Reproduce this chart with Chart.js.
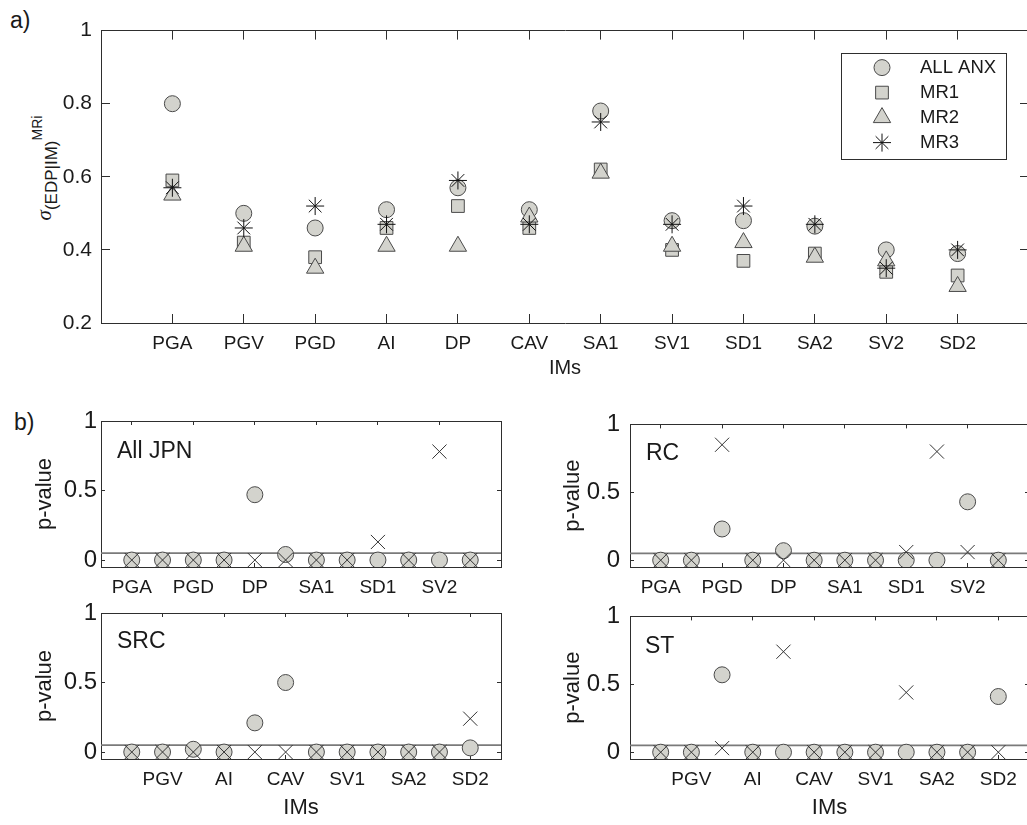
<!DOCTYPE html>
<html>
<head>
<meta charset="utf-8">
<script src="https://cdn.jsdelivr.net/npm/chart.js@4.4.1/dist/chart.umd.min.js"></script>
<style>
html,body{margin:0;padding:0;background:#fff;overflow:hidden;}
#wrap{position:relative;width:1027px;height:825px;overflow:hidden;font-family:"Liberation Sans",Arial,Helvetica,sans-serif;color:#1a1a1a;}
#wrap canvas{position:absolute;}
.txt{position:absolute;white-space:nowrap;line-height:1;}
</style>
</head>
<body>
<div id="wrap">
  <div class="txt" id="lblA" style="left:10px;font-size:23px;">a)</div>
  <div class="txt" id="lblB" style="left:14px;font-size:23px;">b)</div>
  <div class="txt" id="sigTitle" style="left:44px;top:168px;transform:translate(-50%,-50%) rotate(-90deg);"><span style="font-family:'Liberation Serif',serif;font-style:italic;font-size:21px;">σ</span><span style="font-size:17px;position:relative;top:6px;">(EDP|IM)</span><span style="font-size:14px;position:relative;top:-9px;">MRi</span></div>
</div>
<script>
// ---------- data ----------
const categories = ['PGA','PGV','PGD','AI','DP','CAV','SA1','SV1','SD1','SA2','SV2','SD2'];
// panel a) sigma values
const allAnx = [0.80, 0.50, 0.46, 0.51, 0.57, 0.51, 0.78, 0.48, 0.48, 0.465, 0.40, 0.39];
const mr1    = [0.59, 0.42, 0.38, 0.46, 0.52, 0.46, 0.62, 0.40, 0.37, 0.39, 0.34, 0.33];
const mr2    = [0.55, 0.41, 0.35, 0.41, 0.41, 0.49, 0.61, 0.41, 0.42, 0.38, 0.37, 0.30];
const mr3    = [0.57, 0.46, 0.52, 0.47, 0.59, 0.47, 0.75, 0.47, 0.52, 0.47, 0.35, 0.40];
const sigmaTicks = [0.2, 0.4, 0.6, 0.8, 1];
const seriesNames = ['ALL ANX', 'MR1', 'MR2', 'MR3'];
// panel b) p-values (circle series and cross series)
const pTicks = [0, 0.5, 1];
const pThreshold = 0.05;
const jpnCircle = [0, 0, 0, 0, 0.47, 0.04, 0, 0, 0, 0, 0, 0];
const jpnCross  = [0, 0, 0, 0, 0, 0, 0, 0, 0.13, 0, 0.78, 0];
const rcCircle  = [0, 0, 0.23, 0, 0.07, 0, 0, 0, 0, 0, 0.43, 0];
const rcCross   = [0, 0, 0.85, 0, 0, 0, 0, 0, 0.06, 0.80, 0.06, 0];
const srcCircle = [0, 0, 0.02, 0, 0.21, 0.50, 0, 0, 0, 0, 0, 0.03];
const srcCross  = [0, 0, 0, 0, 0, 0, 0, 0, 0, 0, 0, 0.24];
const stCircle  = [0, 0, 0.57, 0, 0, 0, 0, 0, 0, 0, 0, 0.41];
const stCross   = [0, 0, 0.03, 0, 0.74, 0, 0, 0, 0.44, 0, 0, 0];
const allTicks  = [1, 2, 3, 4, 5, 6, 7, 8, 9, 10, 11, 12];
const oddTicks  = [1, 3, 5, 7, 9, 11];
const evenTicks = [2, 4, 6, 8, 10, 12];

// ---------- styles ----------
const FILL = '#d3d3cd', EDGE = '#4a4a4a', INK = '#1a1a1a', AXIS = '#2e2e2e';
const FONT = '"Liberation Sans", Arial, Helvetica, sans-serif';
const wrap = document.getElementById('wrap');

function baselineTop(id, baseline, fs){ document.getElementById(id).style.top = (baseline - 0.8465*fs) + 'px'; }
baselineTop('lblA', 28, 23);
baselineTop('lblB', 430, 23);

function pts(vals){ return vals.map((v, i) => ({x: i + 1, y: v})); }

const legendBox = {
  id: 'legendBox',
  afterDatasetsDraw(chart, args, opts) {
    if (!opts || !opts.show) return;
    const {ctx, chartArea} = chart;
    const x0 = chartArea.right - opts.right - opts.width;
    const y0 = chartArea.top + opts.top;
    ctx.save();
    ctx.fillStyle = '#fff';
    ctx.fillRect(x0, y0, opts.width, opts.height);
    ctx.strokeStyle = AXIS; ctx.lineWidth = 1;
    ctx.strokeRect(Math.round(x0) + 0.5, Math.round(y0) + 0.5, opts.width, opts.height);
    chart.data.datasets.forEach((ds, i) => {
      const y = y0 + opts.firstRow + i * opts.rowGap;
      ctx.fillStyle = ds.pointBackgroundColor;
      ctx.strokeStyle = ds.pointBorderColor;
      ctx.lineWidth = ds.pointBorderWidth;
      Chart.helpers.drawPoint(ctx, {pointStyle: ds.pointStyle, radius: ds.pointRadius, borderWidth: ds.pointBorderWidth, rotation: 0}, x0 + opts.markerX, y);
      ctx.fillStyle = INK;
      ctx.font = opts.fontSize + 'px ' + FONT;
      ctx.textBaseline = 'middle'; ctx.textAlign = 'left';
      ctx.fillText(ds.label, x0 + opts.textX, y);
    });
    ctx.restore();
  }
};

const panelName = {
  id: 'panelName',
  afterDraw(chart, args, opts) {
    if (!opts || !opts.text) return;
    const {ctx, chartArea} = chart;
    ctx.save();
    ctx.fillStyle = INK;
    ctx.font = opts.size + 'px ' + FONT;
    ctx.textBaseline = 'alphabetic'; ctx.textAlign = 'left';
    ctx.fillText(opts.text, chartArea.left + opts.dx, chartArea.top + opts.dy);
    ctx.restore();
  }
};

function makeChart(cfg) {
  const c = document.createElement('canvas');
  const W = cfg.canvasWidth;
  const H = Math.round(cfg.area.bottom - cfg.canvasTop + cfg.bottomH);
  c.width = W; c.height = H;
  c.style.left = cfg.canvasLeft + 'px'; c.style.top = cfg.canvasTop + 'px';
  c.style.width = W + 'px'; c.style.height = H + 'px';
  wrap.appendChild(c);
  const axisW = cfg.area.left - cfg.canvasLeft;
  const padTop = cfg.area.top - cfg.canvasTop;
  const padRight = cfg.canvasLeft + W - cfg.area.right;
  const setTicks = vals => s => { s.ticks = vals.map(v => ({value: v})); };
  const grid = () => ({drawOnChartArea: false, drawTicks: true, tickLength: -cfg.tickLen, color: AXIS, lineWidth: 1});
  const border = () => ({display: true, color: AXIS, width: 1});
  return new Chart(c, {
    type: 'scatter',
    data: {datasets: cfg.datasets},
    options: {
      responsive: false, animation: false, devicePixelRatio: 1, events: [],
      layout: {padding: {left: 0, top: padTop, right: padRight, bottom: 0}},
      plugins: {
        legend: {display: false}, tooltip: {enabled: false},
        legendBox: cfg.legend || {show: false},
        panelName: cfg.name || {}
      },
      scales: {
        x: {
          type: 'linear', position: 'bottom', min: 0, max: 13,
          afterBuildTicks: setTicks(cfg.xTicks),
          ticks: {callback: v => categories[v - 1] || '', autoSkip: false, maxRotation: 0, minRotation: 0,
                  padding: cfg.xPad, color: INK, font: {family: FONT, size: cfg.xFont}},
          grid: grid(), border: border(),
          title: {display: !!cfg.xTitle, text: cfg.xTitle || '', color: INK, font: {family: FONT, size: cfg.xTitleFont || 20}, padding: 0},
          afterFit: s => { s.height = cfg.bottomH; }
        },
        x2: {
          type: 'linear', axis: 'x', position: 'top', min: 0, max: 13,
          afterBuildTicks: setTicks(cfg.xTicks),
          ticks: {display: false}, grid: grid(), border: border(),
          afterFit: s => { s.height = 0; }
        },
        y: {
          type: 'linear', position: 'left', min: cfg.yMin, max: cfg.yMax,
          afterBuildTicks: setTicks(cfg.yTicks),
          ticks: {callback: v => String(v), padding: cfg.yPad, color: INK, font: {family: FONT, size: cfg.yFont}},
          grid: grid(), border: border(),
          title: {display: !!cfg.yTitle, text: cfg.yTitle || '', color: INK, font: {family: FONT, size: cfg.yTitleFont || 22}, padding: 0},
          afterFit: s => { s.width = axisW; }
        },
        y2: {
          type: 'linear', axis: 'y', position: 'right', min: cfg.yMin, max: cfg.yMax,
          afterBuildTicks: setTicks(cfg.yTicks),
          ticks: {display: false}, grid: grid(), border: border(),
          afterFit: s => { s.width = 0; }
        }
      }
    },
    plugins: [legendBox, panelName]
  });
}

// ---------- panel a ----------
const markerBase = {pointBackgroundColor: FILL, pointBorderColor: EDGE, pointBorderWidth: 1, showLine: false};
makeChart({
  canvasLeft: 0, canvasTop: 0, canvasWidth: 1040,
  area: {left: 101, top: 14, right: 1031, bottom: 323},
  bottomH: 57, tickLen: 9, xPad: 18.6, yPad: 18, xFont: 19, yFont: 21,
  xTicks: allTicks, yTicks: sigmaTicks, yMin: 0.2, yMax: 1,
  xTitle: 'IMs', xTitleFont: 20,
  datasets: [
    Object.assign({label: seriesNames[0], data: pts(allAnx), pointStyle: 'circle', pointRadius: 8, order: 3}, markerBase),
    Object.assign({label: seriesNames[1], data: pts(mr1), pointStyle: 'rect', pointRadius: 9, order: 2}, markerBase),
    Object.assign({label: seriesNames[2], data: pts(mr2), pointStyle: 'triangle', pointRadius: 10, order: 1}, markerBase),
    {label: seriesNames[3], data: pts(mr3), pointStyle: 'star', pointRadius: 9, pointBorderColor: '#111', pointBackgroundColor: '#111', pointBorderWidth: 1, showLine: false, order: 0}
  ],
  legend: {show: true, right: 23, top: 22, width: 165, height: 106, firstRow: 15, rowGap: 25, markerX: 41, textX: 79, fontSize: 18.5}
});

// ---------- panel b ----------
function pDatasets(circ, cross) {
  return [
    {type: 'line', data: [{x: 0, y: pThreshold}, {x: 13, y: pThreshold}], borderColor: '#7a7a7a', borderWidth: 1.6, pointRadius: 0, showLine: true, order: 2},
    {data: pts(circ), pointStyle: 'circle', pointRadius: 8, pointBackgroundColor: FILL, pointBorderColor: EDGE, pointBorderWidth: 1, showLine: false, order: 1},
    {data: pts(cross), pointStyle: 'crossRot', pointRadius: 10, pointBorderColor: '#333', pointBorderWidth: 1, showLine: false, order: 0}
  ];
}
const smallCommon = {canvasWidth: 480, tickLen: 4, xPad: 13, xFont: 19, yFont: 24, yTicks: pTicks, yMin: -0.05, yMax: 1, yTitle: 'p-value', yTitleFont: 22};
makeChart(Object.assign({}, smallCommon, {
  canvasLeft: 32, canvasTop: 396, area: {left: 101, top: 421, right: 501.5, bottom: 567}, bottomH: 40, yPad: 8,
  xTicks: oddTicks, datasets: pDatasets(jpnCircle, jpnCross), name: {text: 'All JPN', dx: 16, dy: 37, size: 23}
}));
makeChart(Object.assign({}, smallCommon, {
  canvasLeft: 560, canvasTop: 396, area: {left: 630, top: 421, right: 1030.5, bottom: 567}, bottomH: 40, yPad: 14,
  xTicks: oddTicks, datasets: pDatasets(rcCircle, rcCross), name: {text: 'RC', dx: 16, dy: 36, size: 23}
}));
makeChart(Object.assign({}, smallCommon, {
  canvasLeft: 32, canvasTop: 588, area: {left: 101, top: 613, right: 501.5, bottom: 759}, bottomH: 62, yPad: 8,
  xTicks: evenTicks, xTitle: 'IMs', xTitleFont: 22, datasets: pDatasets(srcCircle, srcCross), name: {text: 'SRC', dx: 16, dy: 35, size: 23}
}));
makeChart(Object.assign({}, smallCommon, {
  canvasLeft: 560, canvasTop: 588, area: {left: 630, top: 613, right: 1030.5, bottom: 759}, bottomH: 62, yPad: 14,
  xTicks: evenTicks, xTitle: 'IMs', xTitleFont: 22, datasets: pDatasets(stCircle, stCross), name: {text: 'ST', dx: 15, dy: 37, size: 23}
}));
</script>
</body>
</html>
